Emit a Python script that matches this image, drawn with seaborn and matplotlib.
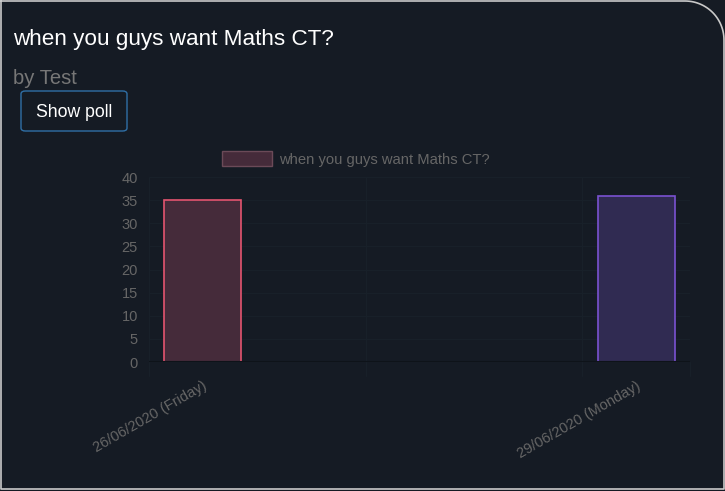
import numpy as np
import pandas as pd
import seaborn as sns
import matplotlib.pyplot as plt
from matplotlib.patches import Patch, FancyBboxPatch
from matplotlib.lines import Line2D

# poll data
poll_title = "when you guys want Maths CT?"
author = "by Test"
dates = ["26/06/2020", "29/06/2020"]
weekdays = ["Friday", "Monday"]
votes = [35, 36]
fills = ["#452b3a", "#302b52"]
edges = ["#e4546f", "#7a52d2"]

bg = "#151b24"
W, H = 725, 491

sns.set_theme(style="dark")
plt.rcParams["font.family"] = ["Liberation Sans", "DejaVu Sans"]

when = pd.to_datetime(dates, format="%d/%m/%Y")
data = pd.DataFrame({
    "offset": (when - when[0]).days,
    "votes": votes,
    "label": [f"{d} ({w})" for d, w in zip(dates, weekdays)],
})

fig = plt.figure(figsize=(W / 100, H / 100), dpi=100, facecolor=bg)

# card outline with rounded top-right corner
r = 39
ang = np.linspace(np.pi / 2, 0, 30)
xs = [1, 724 - r] + list(724 - r + r * np.cos(ang)) + [724, 724, 1, 1]
ys = [1, 1] + list(1 + r - r * np.sin(ang)) + [1 + r, 489, 489, 1]
fig.add_artist(Line2D(np.array(xs) / W, 1 - np.array(ys) / H,
                      transform=fig.transFigure, color="#c9c9c9", lw=1.2))

fig.text(13 / W, 1 - 39 / H, poll_title, color="white", fontsize=16.2,
         va="center", ha="left")
fig.text(13 / W, 1 - 78 / H, author, color="#777777", fontsize=14.6,
         va="center", ha="left")
fig.add_artist(FancyBboxPatch((21 / W, 1 - 131 / H), 106 / W, 40 / H,
                              boxstyle="round,pad=0,rounding_size=0.006",
                              transform=fig.transFigure, facecolor=bg,
                              edgecolor="#2f6fa6", lw=1))
fig.text(74 / W, 1 - 112 / H, "Show poll", color="white", fontsize=12.7,
         va="center", ha="center")

ax = fig.add_axes([149 / W, 1 - 362 / H, 541 / W, 185 / H])
ax.set_facecolor(bg)

sns.barplot(data=data, x="offset", y="votes", native_scale=True,
            width=0.532 / 3, linewidth=1.2, ax=ax)
for bar, fc, ec in zip(ax.patches, fills, edges):
    bar.set_facecolor(fc)
    bar.set_edgecolor(ec)
    bar.set_zorder(3)

ax.set_xlim(-0.37, 3.37)
ax.set_ylim(0, 40)
ax.set_yticks(range(0, 41, 5))
ax.set_xticks(data["offset"])
ax.set_xticklabels(data["label"], rotation=30, ha="right",
                   rotation_mode="anchor")
ax.set_xlabel("")
ax.set_ylabel("")
ax.tick_params(axis="both", colors="#666666", labelsize=10.5, length=0)
ax.tick_params(axis="x", pad=12)
ax.tick_params(axis="y", pad=8)

for y in range(5, 41, 5):
    ax.axhline(y, color="#182029", lw=1, zorder=1)
for x in [-0.37, 1.13, 2.625, 3.37]:
    ax.axvline(x, color="#182029", lw=1, zorder=1)
    ax.plot([x, x], [0, -3], color="#182029", lw=1, clip_on=False)
ax.axhline(0, color="#0e1319", lw=1.5, zorder=4)
for s in ax.spines.values():
    s.set_visible(False)
ax.grid(False)

handle = Patch(facecolor=fills[0], edgecolor="#6b4a58", lw=1)
ax.legend([handle], [poll_title], loc="center left",
          bbox_to_anchor=(222 / W, 1 - 159 / H),
          bbox_transform=fig.transFigure, frameon=False,
          handlelength=3.4, handleheight=1.1, handletextpad=0.5,
          borderaxespad=0, borderpad=0,
          prop={"size": 10.6}, labelcolor="#666666")

fig.savefig("out.png", dpi=100, facecolor=bg)
